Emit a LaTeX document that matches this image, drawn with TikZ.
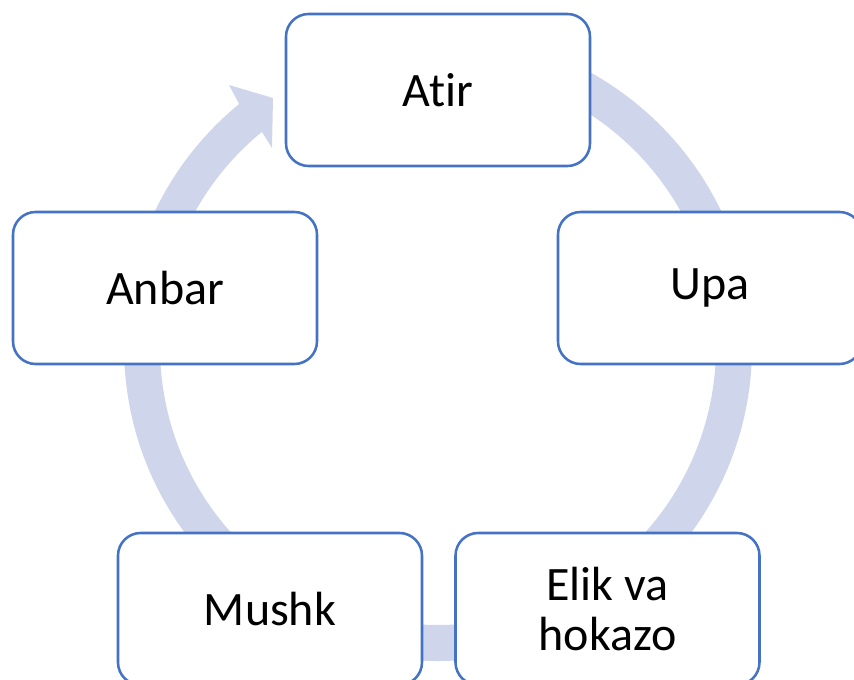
\documentclass[tikz,border=0pt]{standalone}
\usepackage{fontspec}
\setmainfont{Carlito}[Ligatures={NoCommon,NoRare}]
\usepackage{tikz}
\usetikzlibrary{positioning}
\definecolor{ringblue}{HTML}{CFD5EA}
\definecolor{edgeblue}{HTML}{4472C4}
\tikzset{%
  box/.style = {rectangle,draw=edgeblue,fill=white,line width=1.9pt,
        rounded corners=17pt,minimum width=228pt,
        minimum height=114pt,align=center,
        font=\fontsize{36}{37.5}\selectfont},
  ring/.style = {fill=ringblue,draw=none}
}
\begin{document}
\begin{tikzpicture}[x=0.75pt,y=0.75pt]
    \useasboundingbox (0,0) rectangle (854,679);
    \clip (0,0) rectangle (854,679);
    \coordinate (hub) at (438,332);
    % circular arrow behind the boxes
    \fill[ring] ([shift={(hub)}]95:314) arc[start angle=95, end angle=-230.7, radius=314]
        -- (229,594) -- (273,581) -- (272,531)
        -- ([shift={(hub)}]129.3:278) arc[start angle=-230.7, end angle=95, radius=278] -- cycle;
    \node[box] (atir) at (438,589) {Atir};
    \node[box] (upa) at (710,391) {Upa};
    \node[box] (elik) at (607.5,70) {Elik va\\hokazo};
    \node[box] (mushk) at (270,70) {Mushk};
    \node[box] (anbar) at (165,391) {Anbar};
\end{tikzpicture}
\end{document}
